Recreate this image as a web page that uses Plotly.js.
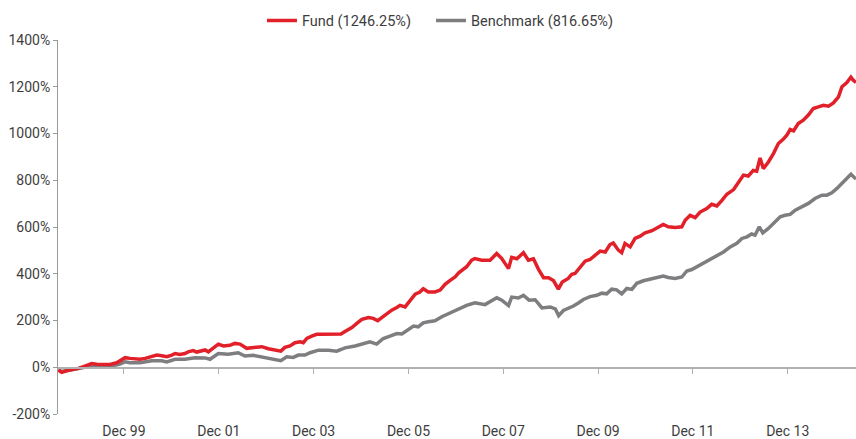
<!DOCTYPE html>
<html>
<head>
<meta charset="utf-8">
<script src="https://cdn.plot.ly/plotly-3.0.1.min.js"></script>
<style>html,body{margin:0;padding:0;background:#fff}#chart{width:856px;height:439px}</style>
</head>
<body>
<div id="chart"></div>
<script>
// Fund (cumulative %)
var fundDates = ['1998-08-12','1998-09-08','1998-10-16','1998-11-24','1999-01-14','1999-03-05','1999-04-26','1999-06-04','1999-07-24','1999-09-15','1999-11-05','1999-11-30','2000-01-09','2000-02-16','2000-03-24','2000-05-02','2000-06-11','2000-08-01','2000-09-09','2000-10-17','2000-11-25','2001-01-03','2001-01-28','2001-03-06','2001-04-14','2001-05-09','2001-06-17','2001-07-13','2001-08-21','2001-09-16','2001-10-11','2001-11-19','2001-12-27','2002-02-05','2002-03-26','2002-05-04','2002-06-12','2002-08-03','2002-09-23','2002-11-27','2003-01-17','2003-03-08','2003-04-23','2003-05-24','2003-07-02','2003-08-10','2003-09-18','2003-10-13','2003-11-09','2003-12-17','2004-01-24','2004-03-03','2004-04-23','2004-06-14','2004-07-29','2004-08-29','2004-10-21','2004-11-28','2005-01-06','2005-02-26','2005-04-04','2005-05-08','2005-06-08','2005-07-16','2005-08-24','2005-10-02','2005-10-27','2005-12-05','2006-01-13','2006-02-21','2006-03-29','2006-04-24','2006-06-02','2006-07-23','2006-09-01','2006-10-09','2006-11-17','2006-12-25','2007-01-20','2007-02-28','2007-03-24','2007-05-02','2007-05-27','2007-07-18','2007-09-21','2007-11-11','2007-12-20','2008-02-10','2008-03-05','2008-04-14','2008-06-04','2008-07-12','2008-08-20','2008-09-28','2008-11-06','2008-12-14','2009-01-21','2009-02-28','2009-03-30','2009-05-15','2009-06-11','2009-07-06','2009-08-14','2009-09-22','2009-10-30','2009-12-08','2010-01-16','2010-02-24','2010-04-02','2010-04-27','2010-06-05','2010-07-01','2010-07-26','2010-09-04','2010-10-12','2010-11-20','2010-12-28','2011-02-19','2011-04-09','2011-05-17','2011-06-25','2011-08-16','2011-10-07','2011-11-02','2011-12-10','2012-01-18','2012-02-25','2012-04-16','2012-05-24','2012-07-03','2012-08-11','2012-09-18','2012-11-09','2012-12-17','2013-01-24','2013-03-02','2013-04-10','2013-05-06','2013-06-01','2013-06-26','2013-08-04','2013-09-12','2013-10-20','2013-11-28','2013-12-24','2014-01-19','2014-02-14','2014-03-22','2014-04-30','2014-06-08','2014-07-16','2014-08-24','2014-10-02','2014-11-10','2014-12-18','2015-01-26','2015-02-22','2015-03-30','2015-05-02','2015-05-20','2015-06-10'];
var fundValues = [-12,-22,-15,-12,-5,5,16,13,12,12,19,28,41,38,35,34,38,45,52,49,45,52,59,55,59,66,71,65,70,74,66,81,99,91,94,102,99,81,85,88,79,73,69,85,91,105,109,105,123,133,141,141,141,141,142,153,170,188,205,213,209,199,213,227,244,256,265,258,287,313,322,336,322,322,330,355,372,386,403,418,430,458,465,458,458,487,465,422,470,464,490,458,464,419,383,383,371,334,365,380,398,401,427,454,461,480,497,493,525,532,501,490,530,515,551,561,575,584,598,611,601,598,601,629,650,640,664,679,697,690,714,740,760,789,822,818,842,839,895,850,878,914,957,976,993,1017,1011,1043,1057,1079,1107,1114,1121,1117,1131,1157,1200,1217,1241,1228,1218];

// Benchmark (cumulative %)
var benchDates = ['1998-08-12','1998-09-08','1998-10-16','1998-11-24','1999-01-14','1999-03-05','1999-04-26','1999-07-24','1999-09-28','1999-11-30','2000-01-09','2000-02-16','2000-05-02','2000-08-01','2000-10-17','2000-11-25','2001-01-28','2001-04-14','2001-06-30','2001-09-16','2001-10-24','2001-12-27','2002-03-13','2002-05-29','2002-07-20','2002-09-23','2002-11-27','2003-02-12','2003-04-23','2003-06-07','2003-07-27','2003-09-05','2003-10-26','2003-12-04','2004-02-07','2004-04-23','2004-06-27','2004-08-04','2004-08-29','2004-11-15','2005-02-01','2005-03-09','2005-04-30','2005-06-20','2005-08-11','2005-10-02','2005-11-10','2005-12-30','2006-02-08','2006-03-16','2006-04-24','2006-06-02','2006-07-23','2006-09-14','2006-11-17','2007-01-20','2007-03-24','2007-05-27','2007-08-13','2007-11-11','2007-12-20','2008-02-10','2008-03-05','2008-04-26','2008-06-04','2008-07-17','2008-09-02','2008-10-24','2008-12-27','2009-02-04','2009-03-02','2009-04-08','2009-05-15','2009-06-24','2009-08-01','2009-09-09','2009-10-30','2009-12-21','2010-01-29','2010-03-07','2010-04-15','2010-05-23','2010-07-01','2010-08-09','2010-09-17','2010-10-25','2010-12-15','2011-02-06','2011-03-27','2011-05-17','2011-06-25','2011-08-16','2011-10-07','2011-11-15','2011-12-23','2012-01-31','2012-03-21','2012-05-12','2012-07-03','2012-08-23','2012-10-14','2012-12-04','2013-01-12','2013-02-20','2013-03-28','2013-04-23','2013-05-26','2013-06-22','2013-08-04','2013-09-12','2013-11-03','2013-12-11','2014-01-19','2014-02-27','2014-04-18','2014-06-08','2014-07-29','2014-09-20','2014-10-28','2014-12-06','2015-01-14','2015-02-22','2015-03-30','2015-05-02','2015-06-10'];
var benchValues = [-12,-18,-14,-12,-6,0,5,5,5,14,23,19,19,28,28,23,34,34,41,40,34,59,56,62,48,51,45,38,28,45,42,52,52,62,73,73,69,77,83,91,102,109,99,123,133,144,142,161,176,173,190,195,199,216,233,252,265,276,268,297,287,264,300,296,308,287,289,254,258,250,221,243,252,262,275,290,302,308,317,314,334,331,314,337,333,359,370,376,384,390,384,380,386,412,418,430,444,458,475,493,515,530,551,558,570,565,601,575,594,615,644,650,654,672,686,701,722,736,736,746,765,786,803,826,805];

// Axis text
var tickDates = ['1999-12-31','2001-12-31','2003-12-31','2005-12-31','2007-12-31','2009-12-31','2011-12-31','2013-12-31'];
var tickLabels = ['Dec 99','Dec 01','Dec 03','Dec 05','Dec 07','Dec 09','Dec 11','Dec 13'];
var yTickVals = [-200,0,200,400,600,800,1000,1200,1400];
var yTickLabels = ['-200%','0%','200%','400%','600%','800%','1000%','1200%','1400%'];
var seriesNames = ['Fund (1246.25%)','Benchmark (816.65%)'];

var FONT = 'Roboto, "Liberation Sans", sans-serif';
var TXT = '#3d3d3d';

var traces = [
  {x: fundDates, y: fundValues, name: seriesNames[0], type: 'scatter', mode: 'lines',
   xaxis: 'x2', yaxis: 'y', legend: 'legend', line: {color: '#e2202a', width: 3.5}, hoverinfo: 'skip'},
  {x: benchDates, y: benchValues, name: seriesNames[1], type: 'scatter', mode: 'lines',
   xaxis: 'x', yaxis: 'y', legend: 'legend2', line: {color: '#7e7e81', width: 3.5}, hoverinfo: 'skip'}
];

var legendBase = {orientation: 'h', xanchor: 'left', y: 1.052, yanchor: 'middle',
                  font: {family: FONT, size: 14.5, color: TXT}, itemwidth: 30, bgcolor: 'rgba(0,0,0,0)'};

var layout = {
  width: 856, height: 439,
  margin: {l: 58, r: 0, t: 40, b: 25, pad: 0},
  paper_bgcolor: '#fff', plot_bgcolor: '#fff',
  font: {family: FONT, size: 14, color: TXT},
  showlegend: true,
  legend: Object.assign({}, legendBase, {x: 0.2556}),
  legend2: Object.assign({}, legendBase, {x: 0.4674}),
  xaxis: {type: 'date', range: ['1998-08-10', '2015-06-10'], showgrid: false, zeroline: false,
          showline: false, ticks: '', tickmode: 'array', tickvals: tickDates, ticktext: tickLabels,
          ticklabelstandoff: 7, tickfont: {family: FONT, size: 14, color: TXT}},
  xaxis2: {type: 'date', matches: 'x', overlaying: 'x', anchor: 'free', position: 0.125,
           showgrid: false, zeroline: false, showline: true, linecolor: '#b0b0b0', linewidth: 1.5,
           ticks: 'outside', ticklen: 5, tickwidth: 1, tickcolor: '#b0b0b0',
           tickmode: 'array', tickvals: tickDates, showticklabels: false},
  yaxis: {range: [-200, 1400], showgrid: false, zeroline: false, showline: true,
          linecolor: '#9a9a9a', linewidth: 1, ticks: 'outside', ticklen: 4, tickcolor: '#9a9a9a',
          tickmode: 'array', tickvals: yTickVals, ticktext: yTickLabels,
          tickfont: {family: FONT, size: 14, color: TXT}}
};

Plotly.newPlot('chart', traces, layout, {displayModeBar: false, staticPlot: true});
</script>
</body>
</html>
